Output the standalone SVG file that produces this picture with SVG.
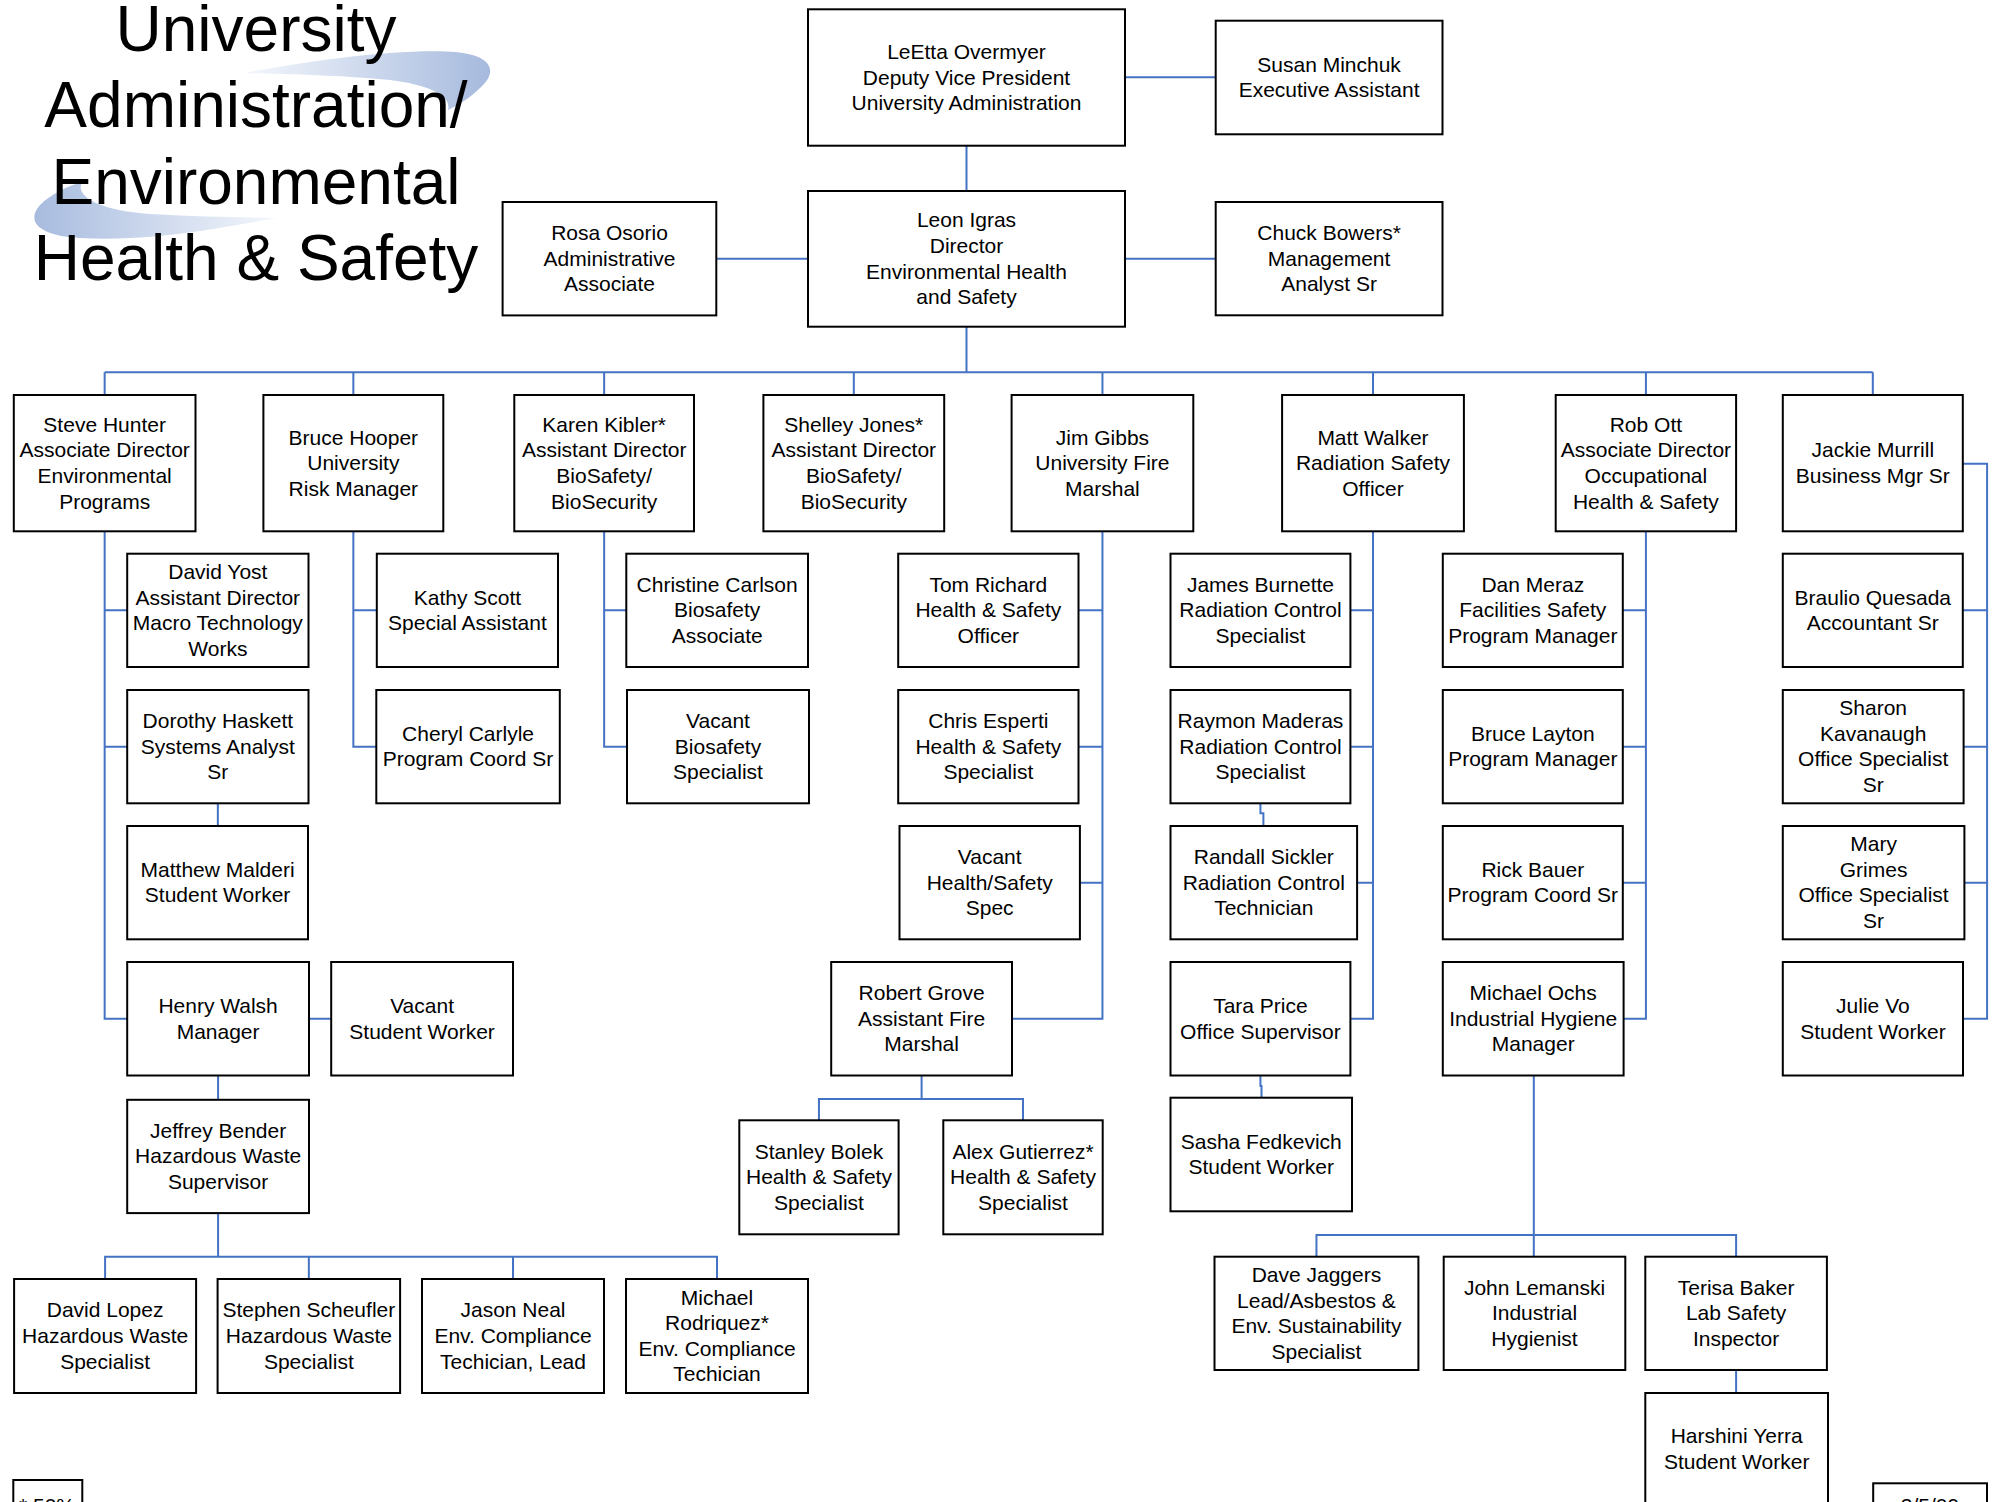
<svg xmlns="http://www.w3.org/2000/svg" width="1995" height="1502" viewBox="0 0 1995 1502">
<style>
.b{fill:#fff;stroke:#000;stroke-width:2}
.t{font-family:"Liberation Sans",Arial,sans-serif;font-size:21px;fill:#000;text-anchor:middle}
.c{fill:none;stroke:#4472c4;stroke-width:2}
.title{font-family:"Liberation Sans",Arial,sans-serif;font-size:64px;fill:#000;text-anchor:middle}
</style>
<defs>
<linearGradient id="gUp" x1="245" y1="0" x2="490" y2="0" gradientUnits="userSpaceOnUse">
<stop offset="0" stop-color="#f4f7fc"/><stop offset="1" stop-color="#a6bade"/>
</linearGradient>
<linearGradient id="gLo" x1="30" y1="0" x2="277" y2="0" gradientUnits="userSpaceOnUse">
<stop offset="0" stop-color="#a6bade"/><stop offset="1" stop-color="#f4f7fc"/>
</linearGradient>
</defs>
<rect width="1995" height="1502" fill="#fff"/>
<g id="title">
<path d="M245,73 C300,62 400,48 455,52 C490,55 500,70 480,88 C470,98 460,104 448,110 C452,96 430,85 390,80 C340,75 280,74 245,73 Z" fill="url(#gUp)"/>
<path d="M277,218 C220,228 150,242 80,238 C40,236 25,222 40,205 C50,195 65,187 82,182 C75,195 95,210 150,214 C200,217 240,217 277,218 Z" fill="url(#gLo)"/>
<text class="title" x="256" y="51">University</text>
<text class="title" x="256" y="127">Administration/</text>
<text class="title" x="256" y="203.5">Environmental</text>
<text class="title" x="256" y="280">Health &amp; Safety</text>
</g>
<g id="connectors">
<path class="c" d="M966.5 145.7V191M1125 77.3H1215.7M1125 258.7H1215.7M716.3 258.7H808M966.5 326.7V372.3"/>
<path class="c" d="M104.65 372.3H1872.8M104.65 372.3V395M353.35 372.3V395M604.15 372.3V395M853.8 372.3V395M1102.45 372.3V395M1373 372.3V395M1645.9 372.3V395M1872.8 372.3V395"/>
<path class="c" d="M104.65 531.3V1018.75H127.2M104.65 610.35H127.2M104.65 746.65H127.2M217.85 803.3V826M309 1018.75H331.2M218.1 1075.5V1099.8"/>
<path class="c" d="M218.1 1213.1V1256.8M105.1 1279V1256.8H717V1279M308.85 1256.8V1279M513 1256.8V1279"/>
<path class="c" d="M353.35 531.3V746.65H376.3M353.35 610.35H376.8M604.15 531.3V746.65H627M604.15 610.35H626.3"/>
<path class="c" d="M1102.45 531.3V1018.75H1012M1078.5 610.35H1102.45M1078.5 746.65H1102.45M1079.9 882.65H1102.45"/>
<path class="c" d="M921.6 1075.5V1099M818.95 1120.3V1099H1023V1120.3"/>
<path class="c" d="M1373 531.3V1018.75H1350.4M1350.4 610.35H1373M1350.4 746.65H1373M1357.1 882.65H1373"/>
<path class="c" d="M1260.45 803.3V813.3H1263.4V826M1260.45 1075.5V1086H1261.5V1097.7"/>
<path class="c" d="M1645.9 531.3V1018.75H1623.6M1622.8 610.35H1645.9M1622.8 746.65H1645.9M1622.8 882.65H1645.9"/>
<path class="c" d="M1533.8 1075.5V1256.7M1316.45 1256.7V1235H1736.1V1256.7M1736.1 1370V1393"/>
<path class="c" d="M1962.8 463.7H1987.1V1018.75H1963M1962.8 610.35H1987.1M1963.6 746.65H1987.1M1964.4 882.65H1987.1"/>
</g>
<g id="n-leetta"><rect class="b" x="808" y="9.3" width="317" height="136.4"/><text class="t" x="966.5" y="58.9"><tspan x="966.5" dy="0">LeEtta Overmyer</tspan><tspan x="966.5" dy="25.6">Deputy Vice President</tspan><tspan x="966.5" dy="25.6">University Administration</tspan></text></g>
<g id="n-susan"><rect class="b" x="1215.7" y="20.7" width="226.8" height="113.6"/><text class="t" x="1329.1" y="71.7"><tspan x="1329.1" dy="0">Susan Minchuk</tspan><tspan x="1329.1" dy="25.6">Executive Assistant</tspan></text></g>
<g id="n-leon"><rect class="b" x="808" y="191" width="317" height="135.7"/><text class="t" x="966.5" y="227.45"><tspan x="966.5" dy="0">Leon Igras</tspan><tspan x="966.5" dy="25.6">Director</tspan><tspan x="966.5" dy="25.6">Environmental Health</tspan><tspan x="966.5" dy="25.6">and Safety</tspan></text></g>
<g id="n-rosa"><rect class="b" x="502.6" y="202" width="213.7" height="113.4"/><text class="t" x="609.5" y="240.1"><tspan x="609.5" dy="0">Rosa Osorio</tspan><tspan x="609.5" dy="25.6">Administrative</tspan><tspan x="609.5" dy="25.6">Associate</tspan></text></g>
<g id="n-chuck"><rect class="b" x="1215.7" y="202" width="226.8" height="113.3"/><text class="t" x="1329.1" y="240.05"><tspan x="1329.1" dy="0">Chuck Bowers*</tspan><tspan x="1329.1" dy="25.6">Management</tspan><tspan x="1329.1" dy="25.6">Analyst Sr</tspan></text></g>

<g id="n-steve"><rect class="b" x="13.8" y="395" width="181.7" height="136.3"/><text class="t" x="104.65" y="431.75"><tspan x="104.65" dy="0">Steve Hunter</tspan><tspan x="104.65" dy="25.6">Associate Director</tspan><tspan x="104.65" dy="25.6">Environmental</tspan><tspan x="104.65" dy="25.6">Programs</tspan></text></g>
<g id="n-bruce-hooper"><rect class="b" x="263.4" y="395" width="179.9" height="136.3"/><text class="t" x="353.35" y="444.55"><tspan x="353.35" dy="0">Bruce Hooper</tspan><tspan x="353.35" dy="25.6">University</tspan><tspan x="353.35" dy="25.6">Risk Manager</tspan></text></g>
<g id="n-karen"><rect class="b" x="514.3" y="395" width="179.7" height="136.3"/><text class="t" x="604.15" y="431.75"><tspan x="604.15" dy="0">Karen Kibler*</tspan><tspan x="604.15" dy="25.6">Assistant Director</tspan><tspan x="604.15" dy="25.6">BioSafety/</tspan><tspan x="604.15" dy="25.6">BioSecurity</tspan></text></g>
<g id="n-shelley"><rect class="b" x="763.4" y="395" width="180.8" height="136.3"/><text class="t" x="853.8" y="431.75"><tspan x="853.8" dy="0">Shelley Jones*</tspan><tspan x="853.8" dy="25.6">Assistant Director</tspan><tspan x="853.8" dy="25.6">BioSafety/</tspan><tspan x="853.8" dy="25.6">BioSecurity</tspan></text></g>
<g id="n-jim"><rect class="b" x="1011.6" y="395" width="181.7" height="136.3"/><text class="t" x="1102.45" y="444.55"><tspan x="1102.45" dy="0">Jim Gibbs</tspan><tspan x="1102.45" dy="25.6">University Fire</tspan><tspan x="1102.45" dy="25.6">Marshal</tspan></text></g>
<g id="n-matt"><rect class="b" x="1282.1" y="395" width="181.8" height="136.3"/><text class="t" x="1373" y="444.55"><tspan x="1373" dy="0">Matt Walker</tspan><tspan x="1373" dy="25.6">Radiation Safety</tspan><tspan x="1373" dy="25.6">Officer</tspan></text></g>
<g id="n-rob"><rect class="b" x="1555.7" y="395" width="180.4" height="136.3"/><text class="t" x="1645.9" y="431.75"><tspan x="1645.9" dy="0">Rob Ott</tspan><tspan x="1645.9" dy="25.6">Associate Director</tspan><tspan x="1645.9" dy="25.6">Occupational</tspan><tspan x="1645.9" dy="25.6">Health &amp; Safety</tspan></text></g>
<g id="n-jackie"><rect class="b" x="1782.8" y="395" width="180" height="136.3"/><text class="t" x="1872.8" y="457.35"><tspan x="1872.8" dy="0">Jackie Murrill</tspan><tspan x="1872.8" dy="25.6">Business Mgr Sr</tspan></text></g>

<g id="n-david-yost"><rect class="b" x="127.2" y="553.7" width="181.3" height="113.3"/><text class="t" x="217.85" y="578.95"><tspan x="217.85" dy="0">David Yost</tspan><tspan x="217.85" dy="25.6">Assistant Director</tspan><tspan x="217.85" dy="25.6">Macro Technology</tspan><tspan x="217.85" dy="25.6">Works</tspan></text></g>
<g id="n-kathy"><rect class="b" x="376.8" y="553.7" width="181.2" height="113.3"/><text class="t" x="467.4" y="604.55"><tspan x="467.4" dy="0">Kathy Scott</tspan><tspan x="467.4" dy="25.6">Special Assistant</tspan></text></g>
<g id="n-christine"><rect class="b" x="626.3" y="553.7" width="181.7" height="113.3"/><text class="t" x="717.15" y="591.75"><tspan x="717.15" dy="0">Christine Carlson</tspan><tspan x="717.15" dy="25.6">Biosafety</tspan><tspan x="717.15" dy="25.6">Associate</tspan></text></g>
<g id="n-tom"><rect class="b" x="898.2" y="553.7" width="180.3" height="113.3"/><text class="t" x="988.35" y="591.75"><tspan x="988.35" dy="0">Tom Richard</tspan><tspan x="988.35" dy="25.6">Health &amp; Safety</tspan><tspan x="988.35" dy="25.6">Officer</tspan></text></g>
<g id="n-james"><rect class="b" x="1170.5" y="553.7" width="179.9" height="113.3"/><text class="t" x="1260.45" y="591.75"><tspan x="1260.45" dy="0">James Burnette</tspan><tspan x="1260.45" dy="25.6">Radiation Control</tspan><tspan x="1260.45" dy="25.6">Specialist</tspan></text></g>
<g id="n-dan"><rect class="b" x="1442.8" y="553.7" width="180" height="113.3"/><text class="t" x="1532.8" y="591.75"><tspan x="1532.8" dy="0">Dan Meraz</tspan><tspan x="1532.8" dy="25.6">Facilities Safety</tspan><tspan x="1532.8" dy="25.6">Program Manager</tspan></text></g>
<g id="n-braulio"><rect class="b" x="1782.8" y="553.7" width="180" height="113.3"/><text class="t" x="1872.8" y="604.55"><tspan x="1872.8" dy="0">Braulio Quesada</tspan><tspan x="1872.8" dy="25.6">Accountant Sr</tspan></text></g>

<g id="n-dorothy"><rect class="b" x="127.2" y="690" width="181.3" height="113.3"/><text class="t" x="217.85" y="728.05"><tspan x="217.85" dy="0">Dorothy Haskett</tspan><tspan x="217.85" dy="25.6">Systems Analyst</tspan><tspan x="217.85" dy="25.6">Sr</tspan></text></g>
<g id="n-cheryl"><rect class="b" x="376.3" y="690" width="183.5" height="113.3"/><text class="t" x="468.05" y="740.85"><tspan x="468.05" dy="0">Cheryl Carlyle</tspan><tspan x="468.05" dy="25.6">Program Coord Sr</tspan></text></g>
<g id="n-vacant-bio"><rect class="b" x="627" y="690" width="182" height="113.3"/><text class="t" x="718" y="728.05"><tspan x="718" dy="0">Vacant</tspan><tspan x="718" dy="25.6">Biosafety</tspan><tspan x="718" dy="25.6">Specialist</tspan></text></g>
<g id="n-chris"><rect class="b" x="898.2" y="690" width="180.3" height="113.3"/><text class="t" x="988.35" y="728.05"><tspan x="988.35" dy="0">Chris Esperti</tspan><tspan x="988.35" dy="25.6">Health &amp; Safety</tspan><tspan x="988.35" dy="25.6">Specialist</tspan></text></g>
<g id="n-raymon"><rect class="b" x="1170.5" y="690" width="179.9" height="113.3"/><text class="t" x="1260.45" y="728.05"><tspan x="1260.45" dy="0">Raymon Maderas</tspan><tspan x="1260.45" dy="25.6">Radiation Control</tspan><tspan x="1260.45" dy="25.6">Specialist</tspan></text></g>
<g id="n-bruce-layton"><rect class="b" x="1442.8" y="690" width="180" height="113.3"/><text class="t" x="1532.8" y="740.85"><tspan x="1532.8" dy="0">Bruce Layton</tspan><tspan x="1532.8" dy="25.6">Program Manager</tspan></text></g>
<g id="n-sharon"><rect class="b" x="1782.8" y="690" width="180.8" height="113.3"/><text class="t" x="1873.2" y="715.25"><tspan x="1873.2" dy="0">Sharon</tspan><tspan x="1873.2" dy="25.6">Kavanaugh</tspan><tspan x="1873.2" dy="25.6">Office Specialist</tspan><tspan x="1873.2" dy="25.6">Sr</tspan></text></g>

<g id="n-matthew"><rect class="b" x="127.2" y="826" width="180.8" height="113.3"/><text class="t" x="217.6" y="876.85"><tspan x="217.6" dy="0">Matthew Malderi</tspan><tspan x="217.6" dy="25.6">Student Worker</tspan></text></g>
<g id="n-vacant-hs"><rect class="b" x="899.5" y="826" width="180.4" height="113.3"/><text class="t" x="989.7" y="864.05"><tspan x="989.7" dy="0">Vacant</tspan><tspan x="989.7" dy="25.6">Health/Safety</tspan><tspan x="989.7" dy="25.6">Spec</tspan></text></g>
<g id="n-randall"><rect class="b" x="1170.5" y="826" width="186.6" height="113.3"/><text class="t" x="1263.8" y="864.05"><tspan x="1263.8" dy="0">Randall Sickler</tspan><tspan x="1263.8" dy="25.6">Radiation Control</tspan><tspan x="1263.8" dy="25.6">Technician</tspan></text></g>
<g id="n-rick"><rect class="b" x="1442.8" y="826" width="180" height="113.3"/><text class="t" x="1532.8" y="876.85"><tspan x="1532.8" dy="0">Rick Bauer</tspan><tspan x="1532.8" dy="25.6">Program Coord Sr</tspan></text></g>
<g id="n-mary"><rect class="b" x="1782.8" y="826" width="181.6" height="113.3"/><text class="t" x="1873.6" y="851.25"><tspan x="1873.6" dy="0">Mary</tspan><tspan x="1873.6" dy="25.6">Grimes</tspan><tspan x="1873.6" dy="25.6">Office Specialist</tspan><tspan x="1873.6" dy="25.6">Sr</tspan></text></g>

<g id="n-henry"><rect class="b" x="127.2" y="962" width="181.8" height="113.5"/><text class="t" x="218.1" y="1012.95"><tspan x="218.1" dy="0">Henry Walsh</tspan><tspan x="218.1" dy="25.6">Manager</tspan></text></g>
<g id="n-vacant-sw"><rect class="b" x="331.2" y="962" width="181.8" height="113.5"/><text class="t" x="422.1" y="1012.95"><tspan x="422.1" dy="0">Vacant</tspan><tspan x="422.1" dy="25.6">Student Worker</tspan></text></g>
<g id="n-robert"><rect class="b" x="831.2" y="962" width="180.8" height="113.5"/><text class="t" x="921.6" y="1000.15"><tspan x="921.6" dy="0">Robert Grove</tspan><tspan x="921.6" dy="25.6">Assistant Fire</tspan><tspan x="921.6" dy="25.6">Marshal</tspan></text></g>
<g id="n-tara"><rect class="b" x="1170.5" y="962" width="179.9" height="113.5"/><text class="t" x="1260.45" y="1012.95"><tspan x="1260.45" dy="0">Tara Price</tspan><tspan x="1260.45" dy="25.6">Office Supervisor</tspan></text></g>
<g id="n-michael-ochs"><rect class="b" x="1442.8" y="962" width="180.8" height="113.5"/><text class="t" x="1533.2" y="1000.15"><tspan x="1533.2" dy="0">Michael Ochs</tspan><tspan x="1533.2" dy="25.6">Industrial Hygiene</tspan><tspan x="1533.2" dy="25.6">Manager</tspan></text></g>
<g id="n-julie"><rect class="b" x="1782.8" y="962" width="180.2" height="113.5"/><text class="t" x="1872.9" y="1012.95"><tspan x="1872.9" dy="0">Julie Vo</tspan><tspan x="1872.9" dy="25.6">Student Worker</tspan></text></g>

<g id="n-jeffrey"><rect class="b" x="127.2" y="1099.8" width="181.8" height="113.3"/><text class="t" x="218.1" y="1137.85"><tspan x="218.1" dy="0">Jeffrey Bender</tspan><tspan x="218.1" dy="25.6">Hazardous Waste</tspan><tspan x="218.1" dy="25.6">Supervisor</tspan></text></g>
<g id="n-stanley"><rect class="b" x="739.3" y="1120.3" width="159.3" height="114"/><text class="t" x="818.95" y="1158.7"><tspan x="818.95" dy="0">Stanley Bolek</tspan><tspan x="818.95" dy="25.6">Health &amp; Safety</tspan><tspan x="818.95" dy="25.6">Specialist</tspan></text></g>
<g id="n-alex"><rect class="b" x="943.3" y="1120.3" width="159.4" height="114"/><text class="t" x="1023" y="1158.7"><tspan x="1023" dy="0">Alex Gutierrez*</tspan><tspan x="1023" dy="25.6">Health &amp; Safety</tspan><tspan x="1023" dy="25.6">Specialist</tspan></text></g>
<g id="n-sasha"><rect class="b" x="1170.5" y="1097.7" width="181.5" height="113.6"/><text class="t" x="1261.25" y="1148.7"><tspan x="1261.25" dy="0">Sasha Fedkevich</tspan><tspan x="1261.25" dy="25.6">Student Worker</tspan></text></g>

<g id="n-david-lopez"><rect class="b" x="14.1" y="1279" width="182" height="114"/><text class="t" x="105.1" y="1317.4"><tspan x="105.1" dy="0">David Lopez</tspan><tspan x="105.1" dy="25.6">Hazardous Waste</tspan><tspan x="105.1" dy="25.6">Specialist</tspan></text></g>
<g id="n-stephen"><rect class="b" x="217.6" y="1279" width="182.5" height="114"/><text class="t" x="308.85" y="1317.4"><tspan x="308.85" dy="0">Stephen Scheufler</tspan><tspan x="308.85" dy="25.6">Hazardous Waste</tspan><tspan x="308.85" dy="25.6">Specialist</tspan></text></g>
<g id="n-jason"><rect class="b" x="422" y="1279" width="182" height="114"/><text class="t" x="513" y="1317.4"><tspan x="513" dy="0">Jason Neal</tspan><tspan x="513" dy="25.6">Env. Compliance</tspan><tspan x="513" dy="25.6">Techician, Lead</tspan></text></g>
<g id="n-michael-r"><rect class="b" x="626" y="1279" width="182" height="114"/><text class="t" x="717" y="1304.6"><tspan x="717" dy="0">Michael</tspan><tspan x="717" dy="25.6">Rodriquez*</tspan><tspan x="717" dy="25.6">Env. Compliance</tspan><tspan x="717" dy="25.6">Techician</tspan></text></g>

<g id="n-dave-jaggers"><rect class="b" x="1214.5" y="1256.7" width="203.9" height="113.3"/><text class="t" x="1316.45" y="1281.95"><tspan x="1316.45" dy="0">Dave Jaggers</tspan><tspan x="1316.45" dy="25.6">Lead/Asbestos &amp;</tspan><tspan x="1316.45" dy="25.6">Env. Sustainability</tspan><tspan x="1316.45" dy="25.6">Specialist</tspan></text></g>
<g id="n-john"><rect class="b" x="1443.7" y="1256.7" width="181.6" height="113.3"/><text class="t" x="1534.5" y="1294.75"><tspan x="1534.5" dy="0">John Lemanski</tspan><tspan x="1534.5" dy="25.6">Industrial</tspan><tspan x="1534.5" dy="25.6">Hygienist</tspan></text></g>
<g id="n-terisa"><rect class="b" x="1645.3" y="1256.7" width="181.6" height="113.3"/><text class="t" x="1736.1" y="1294.75"><tspan x="1736.1" dy="0">Terisa Baker</tspan><tspan x="1736.1" dy="25.6">Lab Safety</tspan><tspan x="1736.1" dy="25.6">Inspector</tspan></text></g>
<g id="n-harshini"><rect class="b" x="1645.3" y="1393" width="182.7" height="120"/><text class="t" x="1736.65" y="1443"><tspan x="1736.65" dy="0">Harshini Yerra</tspan><tspan x="1736.65" dy="25.6">Student Worker</tspan></text></g>

<g id="n-footnote"><rect class="b" x="13.3" y="1480" width="69" height="40"/><text class="t" x="19" y="1513" style="text-anchor:start">* 50%</text></g>
<g id="n-date"><rect class="b" x="1873.2" y="1483.3" width="113.8" height="40"/><text class="t" x="1930" y="1513">3/5/09</text></g>
</svg>
